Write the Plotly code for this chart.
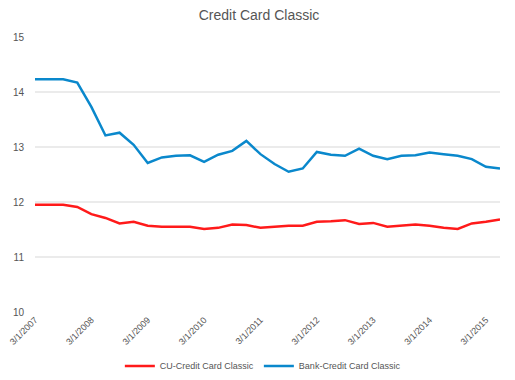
import plotly.graph_objects as go

dates = []
for yr in range(2007, 2016):
    for m in (3, 6, 9, 12):
        dates.append(f"{m}/1/{yr}")
dates = dates[:34]

tick_labels = [f"3/1/{y}" for y in range(2007, 2016)]

cu_values = [11.95, 11.95, 11.95, 11.91, 11.78, 11.71, 11.61, 11.64, 11.57, 11.55,
             11.55, 11.55, 11.51, 11.53, 11.59, 11.58, 11.53, 11.55, 11.57, 11.57,
             11.64, 11.65, 11.67, 11.60, 11.62, 11.55, 11.57, 11.59, 11.57, 11.53,
             11.51, 11.61, 11.64, 11.68]

bank_values = [14.23, 14.23, 14.23, 14.17, 13.73, 13.21, 13.26, 13.04, 12.71, 12.81,
               12.84, 12.85, 12.73, 12.86, 12.93, 13.11, 12.87, 12.69, 12.55, 12.61,
               12.91, 12.86, 12.84, 12.97, 12.84, 12.78, 12.84, 12.85, 12.90, 12.87,
               12.84, 12.78, 12.64, 12.61]

fig = go.Figure()
fig.add_trace(go.Scatter(x=dates, y=cu_values, mode="lines", name="CU-Credit Card Classic",
                         line=dict(color="#ff1a1a", width=2.5)))
fig.add_trace(go.Scatter(x=dates, y=bank_values, mode="lines", name="Bank-Credit Card Classic",
                         line=dict(color="#0a88cc", width=2.5)))

fig.update_layout(
    width=515, height=380,
    margin=dict(l=35, r=15, t=37, b=68),
    paper_bgcolor="white", plot_bgcolor="white",
    font=dict(family="Arial, Liberation Sans, sans-serif", color="#555555", size=10),
    title=dict(text="Credit Card Classic", x=0.503, xanchor="center", y=0.96, yanchor="middle",
               font=dict(size=14, color="#555555")),
    showlegend=True,
    legend=dict(orientation="h", x=0.49, xanchor="center", yref="container", y=0.037,
                yanchor="middle", font=dict(size=9, color="#555555"),
                itemwidth=30, tracegroupgap=0),
)
fig.update_xaxes(type="category", range=[0, len(dates) - 1], tickvals=tick_labels,
                 ticktext=tick_labels, tickangle=-45, showgrid=False, showline=False,
                 zeroline=False, automargin=False, tickfont=dict(size=9, color="#555555"))
fig.update_yaxes(range=[10, 15], dtick=1, showgrid=True, gridcolor="#ebebeb", gridwidth=2,
                 zeroline=False, showline=False, automargin=False,
                 tickfont=dict(size=10, color="#555555"), ticklabelstandoff=10)

fig.write_html("out.html")
